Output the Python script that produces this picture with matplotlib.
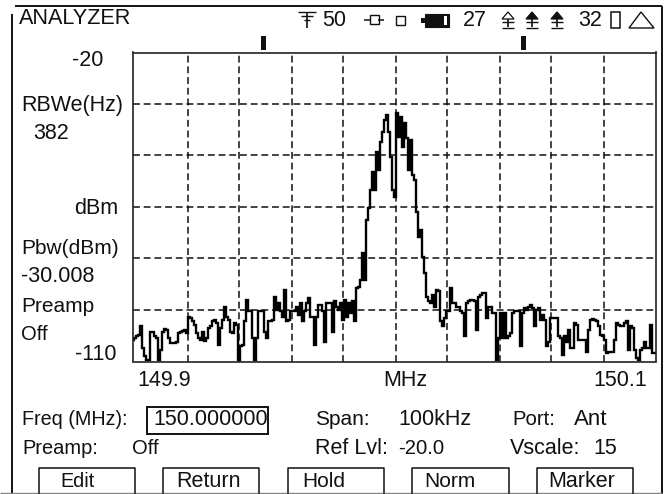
import matplotlib
matplotlib.use("Agg")
import matplotlib.pyplot as plt
from matplotlib.patches import Rectangle, Polygon
import numpy as np

W, H = 672, 494
plt.rcParams['font.family'] = ['Liberation Sans', 'DejaVu Sans']

# One trace level (dBm) per display sample
levels_low_left = [
    -103.7,-103.2,-102.7,-102.2,-99.8,-106.1,-108.5,-109.7,-109.7,-101.3,-101.3,-102.7,-103.2,-109.7,-106.6,-101.3,
    -100.6,-100.8,-103.2,-104.5,-104.7,-104.7,-104.2,-101.7,-101.5,-101.1,-100.8,-101.7,-96.9,-97.4,-98.3,-99.3,
    -101.7,-103.2,-103.7,-101.3,-103.9,-103.2,-100.3,-99.8,-98.3,-97.9,-98.8,-105.1,-100.3,-97.9,-94.0,-96.9,
    -97.9,-101.5,-101.7,-98.8,-99.3,-109.7,-105.6,-105.1,-98.3,-92.2,-95.4,-95.4,-103.2,-109.5,-103.2,-95.4,
    -95.4,-95.4,-101.3,-103.2,-98.3,-98.3,-97.9,-91.1,-94.9,-93.0,-95.4,-96.9,-89.1,-98.3,-97.9,-95.4,
    -95.4,-95.4,-94.0,-96.4,-93.0,-98.3,-95.4,-93.0,-91.6,-96.9,-96.9,-105.1,-96.9,-93.5,-93.5,-95.4,
    -104.2,-93.0,-93.0,-93.0,-101.3,-92.5,-94.0,-94.9,-93.0,-97.9,-92.0,-96.9,-93.0,-95.9,-92.5,-98.3,
]
levels_peak = [
    -88.7,-88.2,-86.3,-78.5,-86.3,-68.8,-65.4,-60.1,-54.7,-60.1,-48.9,-54.2,-46.0,-43.1,-39.7,-38.2,-43.1,-50.3,
    -60.1,-62.0,-37.7,-44.5,-38.7,-47.4,-40.6,-45.0,-54.2,-45.5,-55.7,-57.1,-66.4,-73.6,-71.7,-79.5,-84.3,-91.1,
]
levels_low_right = [
    -92.5,-93.0,-90.6,-94.0,-89.1,-89.6,-98.3,-99.8,-97.4,-95.4,-95.4,-88.6,-93.0,-93.0,-94.0,-94.0,
    -95.4,-95.9,-102.7,-93.0,-92.5,-92.0,-92.2,-92.5,-100.8,-91.1,-90.6,-90.1,-90.1,-97.4,-94.0,-94.0,
    -95.9,-95.9,-109.5,-103.2,-95.9,-103.2,-95.9,-103.2,-102.7,-101.7,-95.9,-95.4,-95.4,-95.4,-105.6,-95.9,
    -94.5,-94.9,-94.0,-93.5,-94.5,-99.8,-94.9,-94.5,-97.9,-96.4,-97.9,-105.6,-104.2,-97.4,-97.4,-97.4,
    -97.4,-102.7,-103.2,-108.1,-102.7,-104.2,-100.8,-106.1,-106.1,-98.8,-99.3,-103.7,-103.7,-103.7,-103.7,-107.1,
    -100.8,-97.9,-97.7,-97.9,-98.3,-99.8,-102.2,-102.7,-103.7,-107.6,-107.1,-107.1,-107.1,-103.7,-98.8,-99.3,
    -99.8,-99.8,-98.8,-98.3,-106.6,-99.8,-100.3,-106.6,-109.0,-109.5,-106.6,-106.1,-104.2,-106.1,-106.1,-99.3,
    -107.6,-107.6,
]
trace = levels_low_left + levels_peak + levels_low_right

grid_samples = [27.5, 53, 79.5, 105, 131.5, 157, 183.5, 209, 235.5]
db_ticks = [-95, -80, -65, -50, -35]

fig = plt.figure(figsize=(W/100, H/100), dpi=100, facecolor='white')

# chrome layer in screen pixels
ui = fig.add_axes([0, 0, 1, 1])
ui.set_xlim(0, W); ui.set_ylim(H, 0); ui.axis('off')

def L(x0, y0, x1, y1, lw=1.1, c='#111111'):
    ui.plot([x0, x1], [y0, y1], color=c, lw=lw, solid_capstyle='butt')

def T(x, y, s, ha='left', size=15.5):
    ui.text(x, y, s, ha=ha, va='center', fontsize=size, color='#111111')

L(15, 6, 662, 6, 1.4)
L(12, 14, 12, 494, 1.4)
L(662, 6, 662, 494, 1.4)
L(0, 493, 662, 493, 1.0, '#888888')

T(19, 19, 'ANALYZER', size=15.6)
T(103, 60, '-20', ha='right')
T(21, 105, 'RBWe(Hz)')
T(33, 133, '382')
T(118, 208, 'dBm', ha='right')
T(21, 248, 'Pbw(dBm)', size=15)
T(21, 276, '-30.008')
T(21, 306, 'Preamp', size=15)
T(21, 334, 'Off', size=14.5)
T(117, 354, '-110', ha='right')
T(137, 380, '149.9')
T(405, 380, 'MHz', ha='center')
T(593, 380, '150.1')

T(22, 419, 'Freq (MHz):', size=14.2)
ui.add_patch(Rectangle((147, 407), 121, 27, fill=False, ec='#111111', lw=1.4))
T(153, 419, '150.000000')
T(315, 419, 'Span:', size=15)
T(398, 419, '100kHz')
T(512, 419, 'Port:', size=14.6)
T(574, 419, 'Ant', size=16)
T(22, 448, 'Preamp:', size=14.4)
T(132, 448, 'Off', size=14.5)
T(315, 448, 'Ref Lvl:')
T(398, 448, '-20.0', size=14.6)
T(510, 448, 'Vscale:')
T(593, 448, '15')

for x0, x1, tx, size, s in [(39, 135, 77, 14.2, 'Edit'), (163, 259, 208, 15.5, 'Return'), (288, 384, 324, 15, 'Hold'),
                            (412, 509, 450, 15, 'Norm'), (537, 633, 582, 15.5, 'Marker')]:
    ui.plot([x0, x0, x1, x1], [493, 468, 468, 493], color='#111111', lw=1.1)
    T(tx, 481, s, ha='center', size=size)

# status icons
T(322, 20, '50'); T(463, 20, '27'); T(578, 20, '32')
for y in (12, 16, 20):
    L(298 + (y - 12) * .7, y, 316 - (y - 12) * .7, y, 1.0)
L(307, 12, 307, 28, 1.2)
L(364, 20, 370, 20); L(378, 20, 384, 20)
ui.add_patch(Rectangle((370, 15), 9, 9, fill=False, ec='#111111', lw=1.0))
ui.add_patch(Rectangle((396, 16), 9, 9, fill=False, ec='#111111', lw=1.0))
ui.add_patch(Rectangle((425, 14), 24, 13, fc='#111111', ec='#111111', lw=0.8))
ui.add_patch(Rectangle((421, 18), 4, 5, fc='#111111', ec='none'))
ui.add_patch(Rectangle((444, 16), 3, 9, fc='white', ec='none'))
for cx, solid in [(508, False), (532, True), (557, True)]:
    ui.add_patch(Polygon([(cx-6, 19), (cx, 12), (cx+6, 19)], fc='#111111' if solid else 'white', ec='#111111', lw=0.9))
    L(cx, 19, cx, 27, 1.2)
    L(cx-6, 22, cx+6, 22, 1.0)
    L(cx-6, 28, cx+6, 28, 1.0)
ui.add_patch(Rectangle((611, 12), 9, 16, fill=False, ec='#111111', lw=1.1))
ui.add_patch(Polygon([(629, 28), (641, 12), (654, 28)], fill=False, ec='#111111', lw=1.0))
ui.add_patch(Rectangle((260.5, 36), 5, 14, fc='#111111', ec='none'))
ui.add_patch(Rectangle((520.5, 36), 5, 14, fc='#111111', ec='none'))

# trace panel
ax = fig.add_axes([133/W, 1 - 361.5/H, (655.5 - 133)/W, (361.5 - 52.5)/H], facecolor='none')
ax.set_xlim(0, len(trace) - 1)
ax.set_ylim(-110, -20)
ax.set_xticks(grid_samples); ax.set_yticks(db_ticks)
ax.tick_params(length=0, labelbottom=False, labelleft=False)
ax.grid(True, color='#111111', lw=1.1, linestyle=(0, (4.5, 2.5)))
ax.set_axisbelow(True)
for s in ax.spines.values():
    s.set_linewidth(1.2); s.set_color('#222222')
ax.plot(np.arange(len(trace)), trace, color='#000000', lw=1.7,
        drawstyle='steps-mid', solid_joinstyle='miter', clip_on=True)

fig.savefig('out.png', dpi=100, facecolor='white')
